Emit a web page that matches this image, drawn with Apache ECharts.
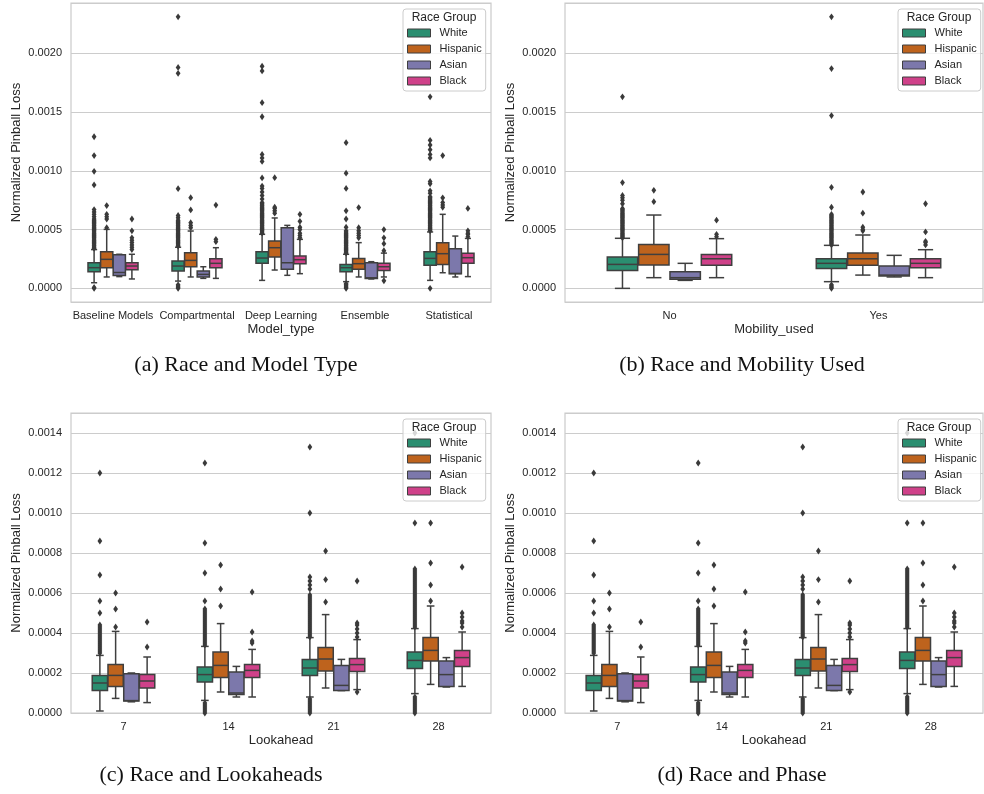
<!DOCTYPE html>
<html><head><meta charset="utf-8">
<script src="https://cdn.jsdelivr.net/npm/echarts@6/dist/echarts.min.js"></script>
<style>html,body{margin:0;padding:0;background:#fff}#chart{width:984px;height:794px}</style>
</head><body><div id="chart"></div>
<script>
const raceNames = ['White', 'Hispanic', 'Asian', 'Black'];
const raceColors = ['#2b8e70', '#be631d', '#7c78ab', '#cf4189'];

// Panel (a): Model_type. Each box: [lower whisker, Q1, median, Q3, upper whisker]
const modelTypes = ['Baseline Models', 'Compartmental', 'Deep Learning', 'Ensemble', 'Statistical'];
const modelWhite = [[0.000048,0.000142,0.000176,0.000218,0.00033],[0.000062,0.000148,0.00019,0.000233,0.00035],[0.000068,0.000213,0.000258,0.000312,0.00046],[0.000057,0.000142,0.000176,0.000204,0.00029],[0.000068,0.000196,0.000255,0.000312,0.00048]];
const modelHispanic = [[0.000097,0.000176,0.000247,0.000312,0.000502],[0.000097,0.000184,0.000238,0.000304,0.000488],[0.000156,0.000267,0.000346,0.000403,0.000599],[0.000097,0.000162,0.00021,0.000255,0.000389],[0.000133,0.000204,0.000295,0.000389,0.00063]];
const modelAsian = [[0.0001,0.00011,0.000135,0.000285,0.00029],[0.000085,0.000097,0.000119,0.000148,0.000184],[0.000111,0.000162,0.000218,0.000516,0.000536],[0.00008,0.000085,0.00009,0.000218,0.000227],[0.000097,0.000125,0.000127,0.000338,0.000445]];
const modelBlack = [[0.00008,0.000159,0.00019,0.000218,0.00029],[0.000085,0.000176,0.000213,0.000252,0.000346],[0.000125,0.00021,0.000244,0.000275,0.000417],[0.000097,0.000153,0.000184,0.000213,0.0003],[0.0001,0.000213,0.000261,0.000298,0.000425]];
const modelWhiteOut = [
  [0,0.000008,0.00034,0.00035,0.00036,0.00037,0.00038,0.00039,0.0004,0.00041,0.00042,0.00043,0.00044,0.00045,0.00046,0.00047,0.00048,0.00049,0.0005,0.00051,0.00052,0.00053,0.00054,0.00055,0.00056,0.00057,0.00058,0.00059,0.00061,0.00063,0.00065,0.00067,0.00088,0.000996,0.00113,0.00129],
  [0,0.00001,0.00002,0.00003,0.00036,0.00037,0.00038,0.00039,0.0004,0.00041,0.00042,0.00043,0.00044,0.00045,0.00046,0.00047,0.00048,0.00049,0.0005,0.00051,0.00052,0.00053,0.00054,0.00055,0.00056,0.00057,0.00058,0.0006,0.00062,0.000848,0.00183,0.00188,0.00231],
  [0.00047,0.00048,0.00049,0.0005,0.00051,0.00052,0.00053,0.00054,0.00055,0.00056,0.00057,0.00058,0.00059,0.0006,0.00061,0.00062,0.00063,0.00064,0.00065,0.00066,0.00067,0.00068,0.00069,0.0007,0.00071,0.00072,0.00073,0.00076,0.00079,0.00082,0.00085,0.00087,0.00094,0.00108,0.00111,0.00114,0.00146,0.00158,0.00185,0.00189],
  [0,0.00001,0.00002,0.00003,0.00004,0.0003,0.00031,0.00032,0.00033,0.00034,0.00035,0.00036,0.00037,0.00038,0.00039,0.0004,0.00041,0.00042,0.00043,0.00044,0.00045,0.00046,0.00047,0.00048,0.00049,0.00052,0.00059,0.00066,0.00085,0.00098,0.00124],
  [0,0.00049,0.0005,0.00051,0.00052,0.00053,0.00054,0.00055,0.00056,0.00057,0.00058,0.00059,0.0006,0.00061,0.00062,0.00063,0.00064,0.00065,0.00066,0.00067,0.00068,0.00069,0.0007,0.00071,0.00072,0.00073,0.00074,0.00075,0.00076,0.00077,0.00078,0.00081,0.00083,0.00089,0.00091,0.00111,0.00114,0.00118,0.00122,0.00126,0.00163]
];
const modelHispanicOut = [[0.000516,0.00059,0.00061,0.00063,0.000704],[0.000516,0.000535,0.000559,0.000667,0.000772],[0.00064,0.00066,0.00068,0.00069,0.000942],[0.00043,0.00045,0.00047,0.00049,0.000516,0.000687],[0.00069,0.00071,0.00073,0.00077,0.00113]];
const modelAsianOut = [[],[],[],[],[]];
const modelBlackOut = [[0.00033,0.00035,0.00037,0.00039,0.00041,0.00043,0.00049,0.00059],[0.000397,0.000417,0.000709],[0.00043,0.00045,0.00047,0.0005,0.00052,0.00057,0.00063],[0.000065,0.00032,0.00038,0.00043,0.0005],[0.00044,0.00046,0.00047,0.00049,0.00068]];

// Panel (b): Mobility_used
const mobilityCats = ['No', 'Yes'];
const mobWhite = [[0,0.000153,0.000204,0.000267,0.000426],[0.000057,0.00017,0.000213,0.000252,0.000366]];
const mobHispanic = [[0.000091,0.000199,0.000289,0.000374,0.000624],[0.000113,0.000196,0.000252,0.000301,0.000454]];
const mobAsian = [[0.000068,0.000077,0.000091,0.000142,0.000213],[0.000097,0.000105,0.000113,0.00019,0.000281]];
const mobBlack = [[0.000091,0.000196,0.000252,0.000289,0.000423],[0.000091,0.000176,0.000213,0.000252,0.000329]];
const mobWhiteOut = [
  [0.00043,0.00044,0.00045,0.00046,0.00047,0.00048,0.00049,0.0005,0.00051,0.00052,0.00053,0.00054,0.00055,0.00056,0.00057,0.00058,0.00059,0.0006,0.00061,0.00062,0.00063,0.00064,0.00065,0.00066,0.00067,0.00068,0.00072,0.00075,0.00077,0.00079,0.0009,0.00163],
  [0,0.00001,0.00002,0.00003,0.00037,0.00038,0.00039,0.0004,0.00041,0.00042,0.00043,0.00044,0.00045,0.00046,0.00047,0.00048,0.00049,0.0005,0.00051,0.00052,0.00053,0.00054,0.00055,0.00056,0.00057,0.00058,0.00059,0.0006,0.00061,0.00062,0.00063,0.00069,0.00086,0.00147,0.00187,0.00231]
];
const mobHispanicOut = [[0.000738,0.000834],[0.00049,0.0005,0.00052,0.00064,0.00082]];
const mobAsianOut = [[],[]];
const mobBlackOut = [[0.00044,0.00046,0.00058],[0.00037,0.00039,0.0004,0.00048,0.00072]];

// Panels (c) and (d): Lookahead
const lookCats = ['7', '14', '21', '28'];
const lookWhite = [[0.00001,0.000113,0.00015,0.000187,0.000288],[0.000063,0.000155,0.000192,0.00023,0.000333],[0.00008,0.000187,0.000225,0.000267,0.000377],[0.000097,0.000222,0.000263,0.000305,0.000422]];
const lookHispanic = [[0.000073,0.000133,0.000188,0.000243,0.000408],[0.000105,0.000177,0.000238,0.000305,0.000447],[0.000125,0.00021,0.00027,0.000327,0.000492],[0.000143,0.00026,0.000313,0.000377,0.000535]];
const lookAsian = [[0.000056,0.00006,0.000062,0.000196,0.0002],[0.00008,0.000092,0.0001,0.000205,0.000233],[0.000112,0.000113,0.000138,0.000238,0.000268],[0.00013,0.000133,0.000192,0.00026,0.000277]];
const lookBlack = [[0.000052,0.000125,0.00016,0.000193,0.00028],[0.00008,0.000177,0.000213,0.000243,0.000318],[0.000117,0.000208,0.000242,0.000273,0.000367],[0.000133,0.000233,0.000277,0.000313,0.000405]];
const lookWhiteOut = [
  [0.0003,0.00031,0.00032,0.00033,0.00034,0.00035,0.00036,0.00037,0.00038,0.00039,0.0004,0.00041,0.00042,0.00043,0.00044,0.0005,0.00056,0.00069,0.00086,0.0012],
  [0,0.00001,0.00002,0.00003,0.00004,0.00005,0.00034,0.00035,0.00036,0.00037,0.00038,0.00039,0.0004,0.00041,0.00042,0.00043,0.00044,0.00045,0.00046,0.00047,0.00048,0.00049,0.0005,0.00051,0.00052,0.00056,0.0007,0.00085,0.00125],
  [0,0.00001,0.00002,0.00003,0.00004,0.00005,0.00006,0.00007,0.00038,0.00039,0.0004,0.00041,0.00042,0.00043,0.00044,0.00045,0.00046,0.00047,0.00048,0.00049,0.0005,0.00051,0.00052,0.00053,0.00054,0.00055,0.00056,0.00057,0.00058,0.00059,0.00062,0.00064,0.00066,0.00068,0.001,0.00133],
  [0,0.00001,0.00002,0.00003,0.00004,0.00005,0.00006,0.00007,0.00008,0.00043,0.00044,0.00045,0.00046,0.00047,0.00048,0.00049,0.0005,0.00051,0.00052,0.00053,0.00054,0.00055,0.00056,0.00057,0.00058,0.00059,0.0006,0.00061,0.00062,0.00063,0.00064,0.00065,0.00066,0.00067,0.00068,0.00069,0.0007,0.00071,0.00072,0.00095,0.0014]
];
const lookHispanicOut = [[0.00043,0.00052,0.0006],[0.000535,0.00062,0.00074],[0.000555,0.000667,0.00081],[0.00056,0.00064,0.00075,0.00095]];
const lookAsianOut = [[],[],[],[]];
const lookBlackOut = [[0.00033,0.000455],[0.00035,0.00036,0.000405,0.000605],[0.000105,0.00038,0.0004,0.00042,0.00044,0.00045,0.00066],[0.00043,0.00045,0.00046,0.00048,0.0005,0.00073]];

const SANS = 'Liberation Sans, Arial, sans-serif';
const SERIF = 'Liberation Serif, Times New Roman, serif';
const TXT = '#262626';
const EDGE = '#3f3f3f';
const HUE_STEP = 0.15;

function makeBox(h) {
  return function (params, api) {
    const cat = api.value(0);
    const band = api.size([1, 0])[0];
    const cx = api.coord([cat, 0])[0] + (h - 1.5) * HUE_STEP * band;
    const w = HUE_STEP * band * 0.97;
    const yLow = api.coord([cat, api.value(1)])[1];
    const yQ1 = api.coord([cat, api.value(2)])[1];
    const yMed = api.coord([cat, api.value(3)])[1];
    const yQ3 = api.coord([cat, api.value(4)])[1];
    const yHigh = api.coord([cat, api.value(5)])[1];
    const ls = { stroke: EDGE, lineWidth: 1.5 };
    return {
      type: 'group',
      children: [
        { type: 'line', shape: { x1: cx, y1: yQ1, x2: cx, y2: yLow }, style: ls },
        { type: 'line', shape: { x1: cx, y1: yQ3, x2: cx, y2: yHigh }, style: ls },
        { type: 'line', shape: { x1: cx - w / 4, y1: yLow, x2: cx + w / 4, y2: yLow }, style: ls },
        { type: 'line', shape: { x1: cx - w / 4, y1: yHigh, x2: cx + w / 4, y2: yHigh }, style: ls },
        { type: 'rect', shape: { x: cx - w / 2, y: yQ3, width: w, height: yQ1 - yQ3 }, style: { fill: api.visual('color'), stroke: EDGE, lineWidth: 1.5 } },
        { type: 'line', shape: { x1: cx - w / 2, y1: yMed, x2: cx + w / 2, y2: yMed }, style: ls }
      ]
    };
  };
}
function makeOutlier(h) {
  return function (params, api) {
    const cat = api.value(0);
    const band = api.size([1, 0])[0];
    const p = api.coord([cat, api.value(1)]);
    const x = p[0] + (h - 1.5) * HUE_STEP * band;
    const y = p[1];
    return { type: 'polygon', shape: { points: [[x, y - 3.4], [x + 2.4, y], [x, y + 3.4], [x - 2.4, y]] }, style: { fill: '#3a3a3a' } };
  };
}

const grids = [], xAxes = [], yAxes = [], series = [], legends = [], graphics = [];
function addPanel(idx, box, cats, xName, stats, outs, yCfg, legPos) {
  grids.push({ left: box[0], top: box[1], width: box[2], height: box[3], show: true, borderColor: '#cccccc', borderWidth: 1.25, backgroundColor: '#fff' });
  xAxes.push({ type: 'category', gridIndex: idx, data: cats, name: xName, nameLocation: 'middle', nameGap: 21,
    nameTextStyle: { fontSize: 13, color: TXT, fontFamily: SANS },
    axisLine: { show: false }, axisTick: { show: false }, splitLine: { show: false },
    axisLabel: { fontSize: 11, color: TXT, fontFamily: SANS, margin: 8, interval: 0 } });
  yAxes.push(Object.assign({ type: 'value', gridIndex: idx, name: 'Normalized Pinball Loss', nameLocation: 'middle', nameGap: 48,
    nameTextStyle: { fontSize: 13, color: TXT, fontFamily: SANS },
    axisLine: { show: false }, axisTick: { show: false },
    splitLine: { show: true, lineStyle: { color: '#cccccc', width: 1 } },
    axisLabel: { fontSize: 11, color: TXT, fontFamily: SANS, margin: 9, showMinLabel: yCfg.showMin, showMaxLabel: false, formatter: v => v.toFixed(4) } }, yCfg.axis));
  for (let h = 0; h < 4; h++) {
    series.push({ type: 'custom', name: raceNames[h], xAxisIndex: idx, yAxisIndex: idx, itemStyle: { color: raceColors[h] },
      renderItem: makeBox(h), encode: { x: 0, y: [1, 2, 3, 4, 5] },
      data: stats[h].map((s, i) => [i].concat(s)), z: 2 });
  }
  for (let h = 0; h < 4; h++) {
    const pts = [];
    outs[h].forEach((arr, i) => arr.forEach(v => pts.push([i, v])));
    series.push({ type: 'custom', name: raceNames[h], xAxisIndex: idx, yAxisIndex: idx, itemStyle: { color: raceColors[h] },
      renderItem: makeOutlier(h), encode: { x: 0, y: 1 }, data: pts, z: 3 });
  }
  legends.push({ left: legPos[0], top: legPos[1], orient: 'vertical', data: raceNames.slice(), icon: 'rect',
    itemWidth: 23, itemHeight: 8, itemGap: 0, padding: [16, 4, 2, 4],
    backgroundColor: 'rgba(255,255,255,0.8)', borderColor: '#cccccc', borderWidth: 1, borderRadius: 3,
    selectedMode: false, itemStyle: { borderColor: EDGE, borderWidth: 1 },
    textStyle: { fontSize: 11, color: TXT, fontFamily: SANS, lineHeight: 16, padding: [0, 0, 0, 4] } });
  graphics.push({ type: 'text', x: legPos[0] + 41, y: legPos[1] + 8.5, z: 100,
    style: { text: 'Race Group', fontSize: 12, fill: TXT, fontFamily: SANS, align: 'center', verticalAlign: 'middle' } });
}

const abY = { showMin: false, axis: { min: -0.000116, max: 0.002428, splitNumber: 5 } };
const cdY = { showMin: true, axis: { min: 0, max: 0.0015, interval: 0.0002 } };

addPanel(0, [71, 3, 420, 299], modelTypes, 'Model_type', [modelWhite, modelHispanic, modelAsian, modelBlack], [modelWhiteOut, modelHispanicOut, modelAsianOut, modelBlackOut], abY, [403, 9]);
addPanel(1, [565, 3, 418, 299], mobilityCats, 'Mobility_used', [mobWhite, mobHispanic, mobAsian, mobBlack], [mobWhiteOut, mobHispanicOut, mobAsianOut, mobBlackOut], abY, [898, 9]);
addPanel(2, [71, 413, 420, 300], lookCats, 'Lookahead', [lookWhite, lookHispanic, lookAsian, lookBlack], [lookWhiteOut, lookHispanicOut, lookAsianOut, lookBlackOut], cdY, [403, 419]);
addPanel(3, [565, 413, 418, 300], lookCats, 'Lookahead', [lookWhite, lookHispanic, lookAsian, lookBlack], [lookWhiteOut, lookHispanicOut, lookAsianOut, lookBlackOut], cdY, [898, 419]);

const captions = [['(a) Race and Model Type', 246, 365], ['(b) Race and Mobility Used', 742, 365], ['(c) Race and Lookaheads', 211, 775], ['(d) Race and Phase', 742, 775]];
captions.forEach(c => graphics.push({ type: 'text', x: c[1], y: c[2], z: 100,
  style: { text: c[0], fontSize: 22, fill: '#111', fontFamily: SERIF, align: 'center', verticalAlign: 'middle' } }));

const chart = echarts.init(document.getElementById('chart'), null, { renderer: 'canvas' });
chart.setOption({
  animation: false,
  backgroundColor: '#fff',
  grid: grids, xAxis: xAxes, yAxis: yAxes, series: series, legend: legends, graphic: graphics
});
</script></body></html>
